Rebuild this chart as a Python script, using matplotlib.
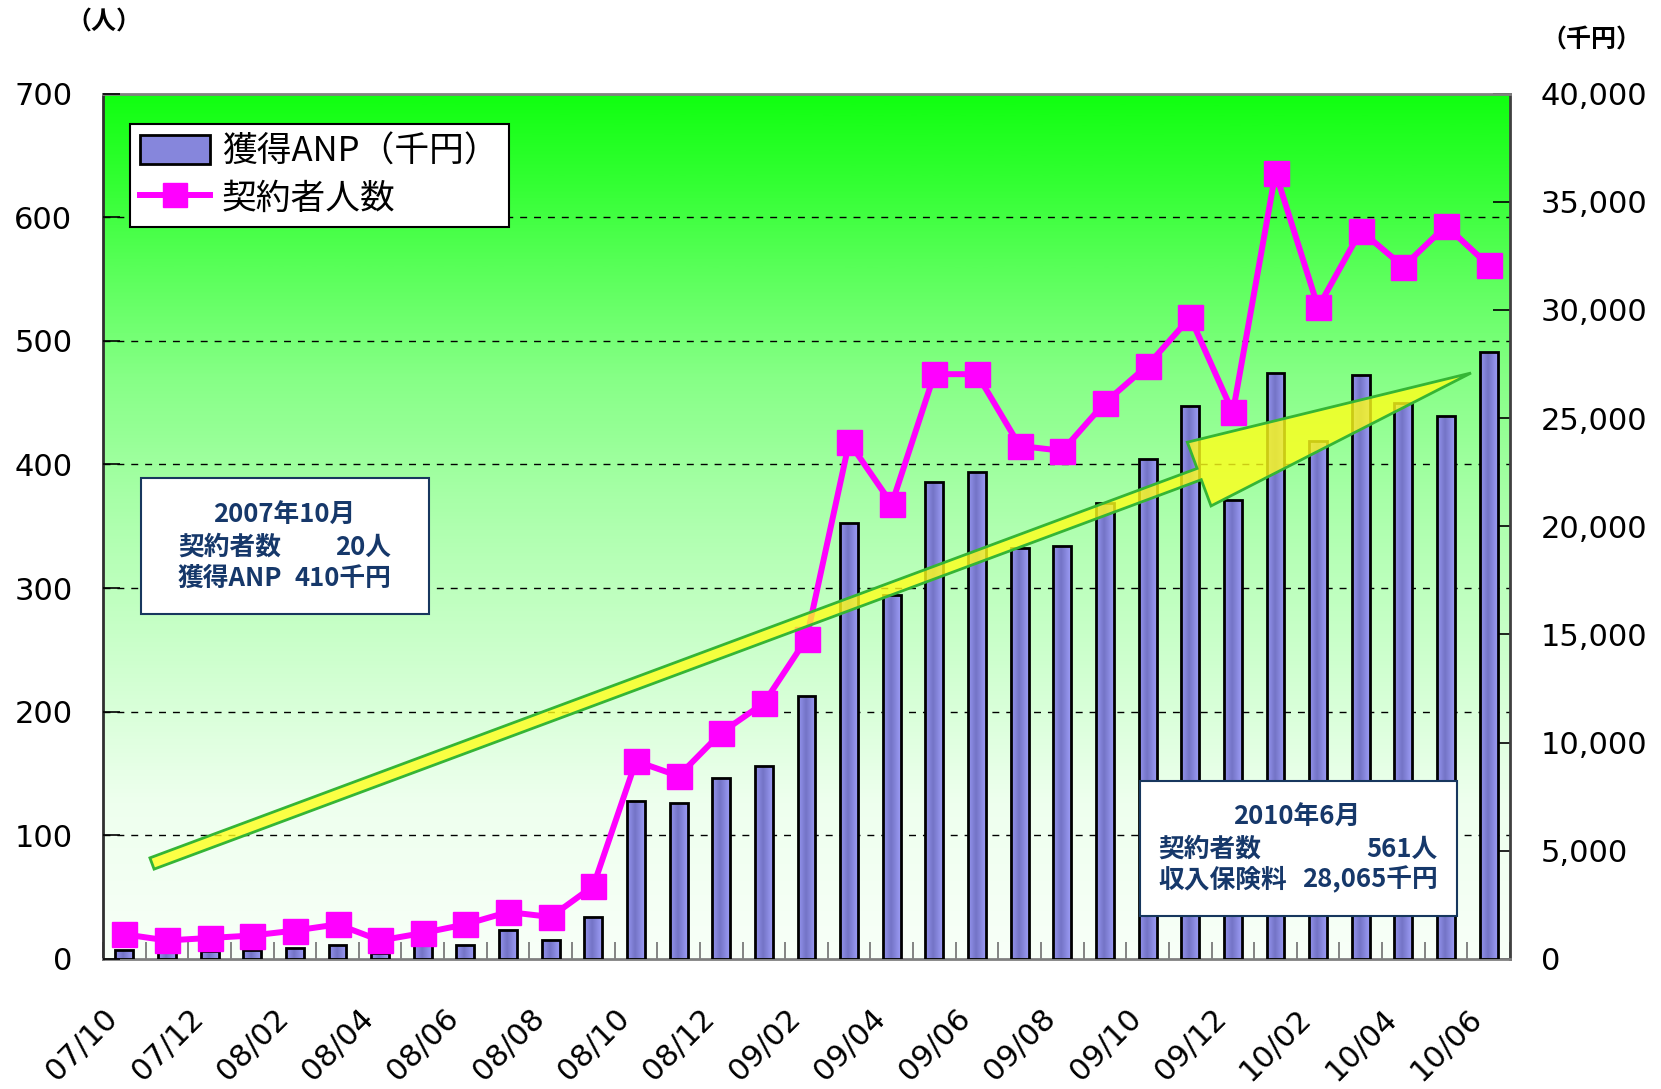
import numpy as np
import matplotlib
matplotlib.use("Agg")
import matplotlib.pyplot as plt
import matplotlib.patches as mpatches
from matplotlib.colors import LinearSegmentedColormap
from matplotlib.transforms import Affine2D
from matplotlib.lines import Line2D
from matplotlib.ticker import FuncFormatter

plt.rcParams['font.family'] = ['Noto Sans CJK JP', 'DejaVu Sans']

# monthly data, 2007/10 .. 2010/06
months = ['07/10', '07/11', '07/12',
          '08/01', '08/02', '08/03', '08/04', '08/05', '08/06',
          '08/07', '08/08', '08/09', '08/10', '08/11', '08/12',
          '09/01', '09/02', '09/03', '09/04', '09/05', '09/06',
          '09/07', '09/08', '09/09', '09/10', '09/11', '09/12',
          '10/01', '10/02', '10/03', '10/04', '10/05', '10/06']
# 契約者人数 (left axis, 人)
people = [20, 15, 17, 19, 23, 28, 15, 21, 28, 38, 34, 59,
          160, 148, 183, 207, 259, 418, 368, 473, 473, 415,
          411, 450, 480, 519, 442, 636, 527, 589, 560, 593, 561]
# 獲得ANP (right axis, 千円)
anp = [410, 420, 385, 415, 523, 646, 261, 630, 630, 1353, 877, 1922,
       7320, 7218, 8361, 8930, 12137, 20160, 16843, 22039, 22503, 18985,
       19082, 21086, 23089, 25555, 21206, 27100, 23936, 26975, 25712, 25093, 28065]
tick_labels = ['07/10', '07/12', '08/02', '08/04', '08/06', '08/08', '08/10',
               '08/12', '09/02', '09/04', '09/06', '09/08', '09/10', '09/12',
               '10/02', '10/04', '10/06']
left_ticks = [0, 100, 200, 300, 400, 500, 600, 700]
right_ticks = [0, 5000, 10000, 15000, 20000, 25000, 30000, 35000, 40000]
grid_vals = [100, 200, 300, 400, 500, 600]

W, H = 1661, 1089
fig = plt.figure(figsize=(W / 100, H / 100), dpi=100)
# pixel coords (y down) -> figure
T = Affine2D().scale(1 / W, -1 / H).translate(0, 1) + fig.transFigure

ax = fig.add_axes([103 / W, 1 - 959 / H, 1407 / W, 865.5 / H])
ax2 = ax.twinx()
ax.yaxis.tick_right()
ax2.yaxis.tick_left()

x = np.arange(len(months))
n = len(months)

# background gradient
stops = [(0.0, 16), (0.1, 50), (0.2, 88), (0.33, 135), (0.5, 175),
         (0.65, 205), (0.82, 238), (1.0, 248)]
bg_cmap = LinearSegmentedColormap.from_list(
    'bg', [(t, (v / 255, 1.0, v / 255)) for t, v in stops])
ax.imshow(np.linspace(0, 1, 512).reshape(-1, 1), extent=[-0.5, n - 0.5, 0, 40000],
          aspect='auto', cmap=bg_cmap, origin='upper', zorder=0)

# dashed grid on the left (people) scale, kept behind the bars
ax.hlines(grid_vals, -0.5, n - 0.5, transform=ax2.transData, colors='black',
          linestyles=(0, (5, 5)), linewidth=1.0, zorder=1)

# bars with horizontal gradient
bar_cmap = LinearSegmentedColormap.from_list(
    'bar', [(0.0, '#9595f0'), (0.45, '#7474c6'), (1.0, '#9c9cf6')])
bars = ax.bar(x, anp, width=0.42, facecolor='none', edgecolor='black',
              linewidth=2, zorder=3)
for b in bars:
    x0 = b.get_x()
    im = ax.imshow(np.linspace(0, 1, 64).reshape(1, -1),
                   extent=[x0, x0 + b.get_width(), 0, b.get_height()],
                   aspect='auto', cmap=bar_cmap, zorder=2)
    im.set_clip_path(b)

# people line
ax2.plot(x, people, color='#ff00ff', linewidth=4.3, marker='s', markersize=18,
         markeredgecolor='#ff00ff', zorder=3, clip_on=False)

ax.set_xlim(-0.5, n - 0.5)
ax.set_ylim(0, 40000)
ax2.set_ylim(0, 700)

# axes / ticks
num_font = 'DejaVu Sans'
ax.set_yticks(right_ticks)
ax.yaxis.set_major_formatter(FuncFormatter(lambda v, p: '{:,}'.format(int(v))))
ax.tick_params(axis='y', direction='in', length=12, width=1.2, left=False,
               right=True, labelleft=False, labelright=True, pad=22, labelsize=22)
ax2.set_yticks(left_ticks)
ax2.tick_params(axis='y', direction='in', length=12, width=1.2, left=True,
                right=False, labelleft=True, labelright=False, pad=22, labelsize=22)

ax.set_xticks(np.arange(n + 1) - 0.5, minor=True)
ax.set_xticks(np.arange(len(tick_labels)) * 2 - 0.5)
ax.set_xticklabels(tick_labels, rotation=45, ha='right', va='top',
                   rotation_mode='anchor')
ax.tick_params(axis='x', which='both', direction='in', length=12, width=1.2,
               color='#707070', labelsize=22, pad=32)
for lab in ax.get_xticklabels() + ax.get_yticklabels() + ax2.get_yticklabels():
    lab.set_family(num_font)

for s in ax2.spines.values():
    s.set_visible(False)
ax.spines['left'].set_color('#303030')
ax.spines['right'].set_color('#404040')
ax.spines['top'].set_color('#808080')
ax.spines['bottom'].set_color('#808080')
for s in ax.spines.values():
    s.set_linewidth(2)

# legend
handles = [mpatches.Patch(facecolor='#8686dc', edgecolor='black', linewidth=2),
           Line2D([], [], color='#ff00ff', linewidth=4.3, marker='s',
                  markersize=17, markeredgecolor='#ff00ff')]
leg = ax2.legend(handles, ['獲得ANP（千円）', '契約者人数'], loc='upper left',
                 bbox_to_anchor=(0.0192, 0.9648), borderaxespad=0, fontsize=25,
                 fancybox=False, edgecolor='black', framealpha=1,
                 handlelength=2.0, handleheight=0.9, handletextpad=0.35,
                 borderpad=0.3, labelspacing=0.35)
leg.get_frame().set_linewidth(1.5)

# trend arrow
arrow = mpatches.FancyArrow(152, 863.5, 1319, -490.5, width=12, head_width=68,
                            head_length=290, length_includes_head=True,
                            transform=T, facecolor=(1.0, 1.0, 0.1, 0.8),
                            edgecolor='#35b535', linewidth=2, zorder=4)
fig.add_artist(arrow)

# info boxes
navy = '#16386a'
for (bx, by, bw, bh) in [(141, 478, 288, 136), (1140, 781, 317, 135)]:
    fig.add_artist(mpatches.Rectangle((bx, by), bw, bh, transform=T,
                                      facecolor='white', edgecolor='#17375e',
                                      linewidth=1.5, zorder=5))

fs = 18.5
info_texts = [
    (284, 515, '2007年10月', 'center'),
    (178, 547, '契約者数', 'left'),
    (391, 547, '20人', 'right'),
    (178, 578, '獲得ANP', 'left'),
    (391, 578, '410千円', 'right'),
    (1297, 817, '2010年6月', 'center'),
    (1158, 849, '契約者数', 'left'),
    (1438, 849, '561人', 'right'),
    (1158, 880, '収入保険料', 'left'),
    (1438, 880, '28,065千円', 'right'),
]
for tx, ty, s, ha in info_texts:
    fig.text(tx, ty, s, transform=T, ha=ha, va='center', fontsize=fs,
             color=navy, fontweight='bold', zorder=6)

# unit labels
fig.text(104, 23, '（人）', transform=T, ha='center', va='center',
         fontsize=18, fontweight='bold')
fig.text(1591, 40, '（千円）', transform=T, ha='center', va='center',
         fontsize=18, fontweight='bold')

fig.savefig('out.png', dpi=100)
